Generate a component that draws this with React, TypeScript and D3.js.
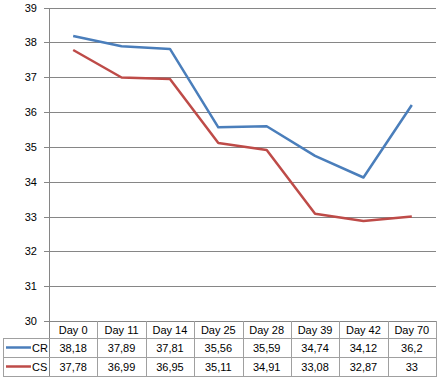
import React from "react";
import * as d3 from "d3";

const days = ["Day 0", "Day 11", "Day 14", "Day 25", "Day 28", "Day 39", "Day 42", "Day 70"];
const crValues = [38.18, 37.89, 37.81, 35.56, 35.59, 34.74, 34.12, 36.2];
const csValues = [37.78, 36.99, 36.95, 35.11, 34.91, 33.08, 32.87, 33];
const yTicks = [30, 31, 32, 33, 34, 35, 36, 37, 38, 39];
const seriesNames = ["CR", "CS"];
const seriesColors = ["#4a7ebb", "#be4b48"];

const W = 440;
const H = 382;
const left = 49;
const right = 436;
const top = 7.5;
const bottom = 321;
const tableLeft = 3;
const rowBounds = [321, 338, 357, 376];

const fmt = (v: number) => String(v).replace(".", ",");

export default function App() {
  const x = d3.scaleBand<string>().domain(days).range([left, right]);
  const y = d3.scaleLinear().domain([30, 39]).range([bottom, top]);
  const series = [crValues, csValues];
  const line = d3
    .line<number>()
    .x((_, i) => (x(days[i]) as number) + x.bandwidth() / 2)
    .y((d) => y(d));
  const font = "'Liberation Sans', Arial, sans-serif";
  const gridColor = "#868686";
  const tableColor = "#a0a0a0";
  const crisp = (v: number) => Math.round(v) + 0.5;

  return (
    <svg
      width={W}
      height={H}
      style={{ position: "absolute", left: 0, top: 0, background: "#fff" }}
      fontFamily={font}
    >
      <rect x={0} y={0} width={W} height={H} fill="#fff" />
      {yTicks.map((t) => (
        <g key={t}>
          <line x1={left - 5} x2={right} y1={crisp(y(t))} y2={crisp(y(t))} stroke={gridColor} strokeWidth={1} />
          <text x={37} y={y(t) + 4} textAnchor="end" fontSize={11} fill="#000">
            {t}
          </text>
        </g>
      ))}
      <line x1={crisp(left)} x2={crisp(left)} y1={crisp(top)} y2={rowBounds[3]} stroke={gridColor} />
      {/* table */}
      {days.map((d, i) => (
        <line
          key={"v" + i}
          x1={crisp((x(d) as number) + x.bandwidth())}
          x2={crisp((x(d) as number) + x.bandwidth())}
          y1={rowBounds[0]}
          y2={rowBounds[3]}
          stroke={tableColor}
        />
      ))}
      <line x1={crisp(tableLeft)} x2={crisp(tableLeft)} y1={rowBounds[1]} y2={rowBounds[3]} stroke={tableColor} />
      {rowBounds.slice(1).map((r, i) => (
        <line key={"h" + i} x1={tableLeft} x2={right + 1} y1={crisp(r)} y2={crisp(r)} stroke={tableColor} />
      ))}
      {days.map((d) => (
        <text
          key={"c" + d}
          x={(x(d) as number) + x.bandwidth() / 2}
          y={(rowBounds[0] + rowBounds[1]) / 2 + 4.5}
          textAnchor="middle"
          fontSize={11}
          fill="#000"
        >
          {d}
        </text>
      ))}
      {series.map((vals, s) => {
        const cy = (rowBounds[s + 1] + rowBounds[s + 2]) / 2;
        return (
          <g key={"row" + s}>
            <line x1={6} x2={31} y1={cy} y2={cy} stroke={seriesColors[s]} strokeWidth={2.5} />
            <text x={32} y={cy + 4} fontSize={11} fill="#000">
              {seriesNames[s]}
            </text>
            {vals.map((v, i) => (
              <text
                key={i}
                x={(x(days[i]) as number) + x.bandwidth() / 2}
                y={cy + 4}
                textAnchor="middle"
                fontSize={11}
                fill="#000"
              >
                {fmt(v)}
              </text>
            ))}
          </g>
        );
      })}
      {series.map((vals, s) => (
        <path
          key={"l" + s}
          d={line(vals) as string}
          fill="none"
          stroke={seriesColors[s]}
          strokeWidth={2.5}
          strokeLinejoin="round"
        />
      ))}
    </svg>
  );
}
